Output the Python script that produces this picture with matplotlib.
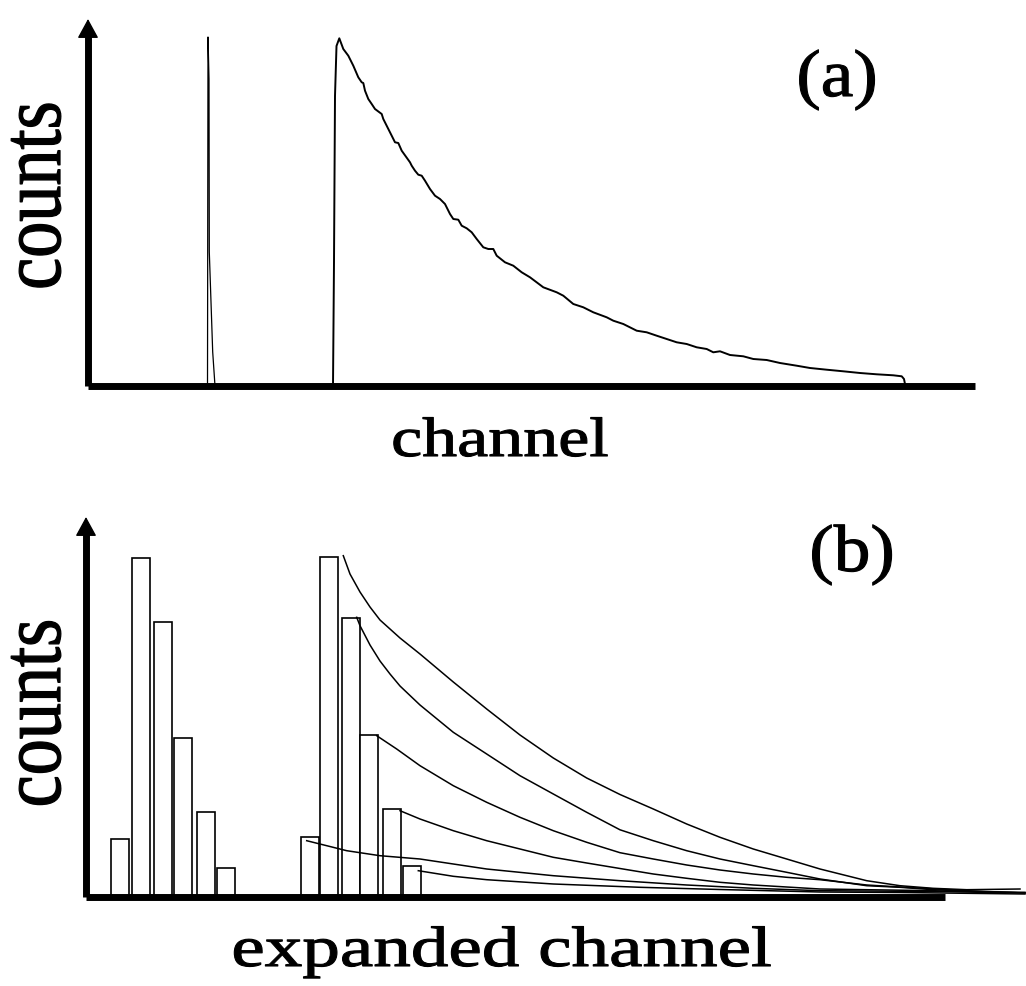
import numpy as np
import matplotlib
matplotlib.use("Agg")
import matplotlib.pyplot as plt
from matplotlib.patheffects import AbstractPathEffect
from matplotlib.transforms import Affine2D

# ---- panel (a) : raw spectrum (channel / counts, arbitrary units) ----
prompt_ch = [119.5, 120.0, 121.0, 121.3, 124.7, 127.0]
prompt_cnt = [0, 349, 307, 134, 34, 0]

decay_ch = [245, 246, 247, 248.5, 251.3, 255.3, 260.3, 265.3, 270.3, 273.7, 275.3,
            277, 280.3, 283.7, 287, 293.7, 295.3, 303.7, 307, 310.3, 313.7,
            322, 323.7, 327, 330.3, 333.7, 337, 342, 347, 352, 357, 362, 365.3,
            370.3, 373.7, 378.7, 383.7, 388.7, 395.3, 400.3, 405.3, 408.7, 417,
            425.3, 433.7, 442, 455.3, 468.7, 475.3, 485.3, 495.3, 505.3, 518.7,
            525.3, 535.3, 548.7, 558.7, 568.7, 578.7, 588.7, 598.7, 608.7,
            618.7, 625.3, 632, 642, 655.3, 665.3, 678.7, 692, 708.7, 722, 738.7,
            755.3, 772, 788.7, 805.3, 813.7, 816, 817, 817.7]
decay_cnt = [0, 124, 290, 340, 347.7, 337, 330.3, 320.3, 308.7, 303.7, 303,
             295.3, 287, 282, 277, 272, 267, 250.3, 243.7, 243, 235.3,
             223.7, 220.3, 215.3, 211.3, 210.3, 205.3, 197, 190.3, 187, 182, 172, 167,
             166.3, 160.3, 157.7, 153.7, 147, 138.7, 137, 137, 130.3, 123.7,
             120.3, 113.7, 108.7, 98.7, 93.7, 90.3, 82, 78.7, 73.7, 68.7,
             65.3, 62, 55.3, 53.7, 50.3, 47, 43.7, 42, 38.7,
             37, 33.7, 34.7, 31, 29.7, 27, 26, 23, 20.3, 18, 16.3,
             14.7, 13, 11.7, 10.7, 9.7, 7, 2, 0]

# ---- panel (b) : expanded channels ----
left_bar_ch = [34.3, 54.5, 77.0, 97.0, 119.5, 140.3]
left_bar_cnt = [58, 339, 275, 159, 85, 29]
right_bar_ch = [223.7, 242.8, 264.7, 283.2, 305.5, 326.0]
right_bar_cnt = [60, 340, 279, 162, 88, 31]

c1_ch = [257.3, 264, 274, 284, 294, 314, 334, 367.3, 400.7, 434, 467.3, 500.7, 534,
         567.3, 600.7, 634, 667.3, 700.7, 734, 780.7, 814, 847, 880.7, 934]
c1_cnt = [341.3, 323, 305, 290, 277, 259, 243, 215, 188, 162, 139, 119, 102.5,
          88, 73, 59.7, 48, 38, 28, 16.3, 11.3, 8.7, 7.3, 8]
c2_ch = [270.7, 274, 284, 294, 304, 314, 334, 367.3, 400.7, 434, 467.3, 500.7, 534,
         567.3, 600.7, 634, 667.3, 700.7, 734, 780.7, 814, 847.3, 897.3, 939]
c2_cnt = [279.7, 271.3, 252, 236, 223, 211, 192, 164.7, 143, 121.3, 103, 84.7, 67.2,
          56.3, 46.3, 38, 31.3, 24.7, 18, 11.3, 9.7, 7.3, 5.3, 4]
c3_ch = [290.7, 310.7, 334, 367.3, 400.7, 434, 467.3, 500.7, 534, 567.3, 600.7,
         634, 667.3, 700.7, 734, 780.7, 814, 880.7, 939]
c3_cnt = [161.3, 148, 131.3, 111.3, 94.7, 79.7, 66.3, 54.7, 44.3, 38, 32,
          27, 23, 19.7, 17.3, 12, 10, 6.3, 4]
c4_ch = [314, 334, 367.3, 400.7, 434, 467.3, 500.7, 534, 567.3, 600.7, 634,
         667.3, 734, 847.3, 914]
c4_cnt = [86.3, 78, 66.3, 56.3, 48, 39.7, 34, 28.5, 23, 18.7, 14.7,
          12, 8, 6.3, 4]
c5_ch = [220.7, 260.7, 294, 334, 367.3, 400.7, 467.3, 534, 600.7, 667.3, 734,
         847.3, 939]
c5_cnt = [56.3, 46.3, 41.3, 38, 33, 28, 21.3, 16.3, 12, 8.7, 6.3, 5.5, 4.7]
c6_ch = [332.3, 367.3, 400.7, 467.3, 554, 634, 734, 814, 939]
c6_cnt = [26.3, 20.7, 17.3, 13, 9.7, 7.5, 5, 4.5, 3]


class StretchX(AbstractPathEffect):
    """draw text path stretched horizontally around its own centre"""
    def __init__(self, sx, lw=0.8):
        super().__init__()
        self.sx = sx
        self.lw = lw

    def draw_path(self, renderer, gc, tpath, affine, rgbFace=None):
        bb = tpath.get_extents(affine)
        cx = (bb.x0 + bb.x1) / 2
        tr = affine + Affine2D().translate(-cx, 0).scale(self.sx, 1).translate(cx, 0)
        gc0 = renderer.new_gc()
        gc0.copy_properties(gc)
        gc0.set_linewidth(self.lw)
        renderer.draw_path(gc0, tpath, tr, rgbFace)
        gc0.restore()


W, H = 1026, 987
fig = plt.figure(figsize=(W / 100, H / 100), dpi=100)
serif = "Liberation Serif"


def axis_lines(ax, xmax, ymax):
    ax.plot([0, xmax], [0, 0], color="k", lw=5, solid_capstyle="butt",
            clip_on=False, zorder=5)
    ax.plot([0, 0], [0, ymax - 10], color="k", lw=5, solid_capstyle="butt",
            clip_on=False, zorder=5)
    ax.annotate("", xy=(0, ymax), xytext=(0, ymax - 14),
                arrowprops=dict(arrowstyle="-|>,head_length=0.55,head_width=0.3",
                                color="k", lw=1, mutation_scale=22,
                                shrinkA=0, shrinkB=0), zorder=6)


# panel (a)
ax1 = fig.add_axes([88 / W, (H - 387) / H, 887 / W, 367 / H])
ax1.set_xlim(0, 887)
ax1.set_ylim(0, 367)
ax1.axis("off")
ax1.plot(prompt_ch, prompt_cnt, color="k", lw=0.9, clip_on=False)
ax1.plot(decay_ch, decay_cnt, color="k", lw=1.4, clip_on=False)
axis_lines(ax1, 887, 367)

# panel (b)
ax2 = fig.add_axes([86 / W, (H - 898) / H, 859 / W, 380 / H])
ax2.set_xlim(0, 859)
ax2.set_ylim(0, 380)
ax2.axis("off")
ax2.bar(left_bar_ch, left_bar_cnt, width=18, facecolor="white",
        edgecolor="black", linewidth=1.2, zorder=2)
ax2.bar(right_bar_ch, right_bar_cnt, width=18, facecolor="white",
        edgecolor="black", linewidth=1.2, zorder=2)
for cx, cy in [(c1_ch, c1_cnt), (c2_ch, c2_cnt), (c3_ch, c3_cnt),
               (c4_ch, c4_cnt), (c5_ch, c5_cnt), (c6_ch, c6_cnt)]:
    ax2.plot(cx, cy, color="k", lw=1.1, clip_on=False, zorder=3)
axis_lines(ax2, 859, 380)

# labels
fig.text(500 / W, 1 - 457 / H, "channel", family=serif, fontsize=40,
         ha="center", va="baseline", path_effects=[StretchX(1.26)])
fig.text(502 / W, 1 - 967 / H, "expanded channel", family=serif, fontsize=41,
         ha="center", va="baseline", path_effects=[StretchX(1.32)])
fig.text(38.5 / W, 1 - 196.5 / H, "counts", family=serif, fontsize=52,
         rotation=90, ha="center", va="center", path_effects=[StretchX(1.2, 0.9)])
fig.text(38.5 / W, 1 - 714 / H, "counts", family=serif, fontsize=52,
         rotation=90, ha="center", va="center", path_effects=[StretchX(1.2, 0.9)])
fig.text(837 / W, 1 - 97 / H, "(a)", family=serif, fontsize=48,
         ha="center", va="baseline", path_effects=[StretchX(1.1)])
fig.text(852 / W, 1 - 572 / H, "(b)", family=serif, fontsize=48,
         ha="center", va="baseline", path_effects=[StretchX(1.1)])

fig.savefig("out.png", dpi=100)
